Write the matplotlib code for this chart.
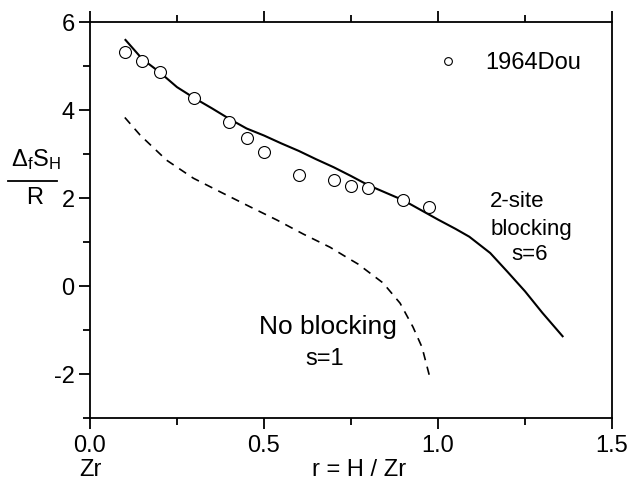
import matplotlib
matplotlib.use("Agg")
import matplotlib.pyplot as plt
from matplotlib.lines import Line2D

plt.rcParams['font.family'] = ['Liberation Sans', 'DejaVu Sans']
plt.rcParams['mathtext.fontset'] = 'custom'
plt.rcParams['mathtext.rm'] = 'Liberation Sans'
plt.rcParams['mathtext.it'] = 'Liberation Sans'
plt.rcParams['mathtext.sf'] = 'Liberation Sans'

# Experimental data (1964Dou)
exp_r = [0.10, 0.15, 0.20, 0.30, 0.40, 0.45, 0.50, 0.60, 0.70, 0.75, 0.80, 0.90, 0.975]
exp_s = [5.32, 5.11, 4.86, 4.27, 3.73, 3.36, 3.05, 2.52, 2.41, 2.27, 2.23, 1.95, 1.80]

# 2-site blocking model, s=6 (solid)
blk_r = [0.10, 0.15, 0.20, 0.25, 0.30, 0.35, 0.40, 0.45, 0.50, 0.55, 0.60, 0.65, 0.70,
         0.75, 0.80, 0.85, 0.90, 0.95, 1.00, 1.05, 1.09, 1.15, 1.20, 1.25, 1.30, 1.36]
blk_s = [5.61, 5.16, 4.86, 4.52, 4.27, 4.04, 3.80, 3.58, 3.42, 3.24, 3.07, 2.88, 2.70,
         2.50, 2.29, 2.12, 1.95, 1.73, 1.51, 1.30, 1.12, 0.75, 0.32, -0.12, -0.61, -1.16]

# No blocking model, s=1 (dashed)
nob_r = [0.10, 0.144, 0.22, 0.297, 0.374, 0.46, 0.537, 0.613, 0.69, 0.74, 0.77,
         0.842, 0.891, 0.928, 0.954, 0.977]
nob_s = [3.83, 3.43, 2.86, 2.45, 2.14, 1.80, 1.50, 1.18, 0.88, 0.64, 0.50,
         0.07, -0.39, -0.93, -1.39, -2.09]

x_ticks = [0.0, 0.5, 1.0, 1.5]
x_ticklabels = ['0.0', '0.5', '1.0', '1.5']
y_ticks = [-2, 0, 2, 4, 6]
y_ticklabels = ['-2', '0', '2', '4', '6']

fig = plt.figure(figsize=(6.31, 4.82), dpi=100)
ax = fig.add_axes([90/631, 1-418/482, (612-90)/631, (418-22)/482])

ax.plot(blk_r, blk_s, color='black', lw=1.5, solid_capstyle='butt', solid_joinstyle='round')
ax.plot(nob_r, nob_s, color='black', lw=1.2, ls=(0, (5, 4)))
ax.plot(exp_r, exp_s, ls='none', marker='o', ms=8.6, mfc='white', mec='black', mew=0.8,
        label='1964Dou')

ax.set_xlim(0, 1.5)
ax.set_ylim(-3, 6)
ax.set_xticks(x_ticks)
ax.set_xticklabels(x_ticklabels)
ax.set_yticks(y_ticks)
ax.set_yticklabels(y_ticklabels)
ax.set_xticks([0.25, 0.75, 1.25], minor=True)
ax.set_yticks([-3, -1, 1, 3, 5], minor=True)

for s in ax.spines.values():
    s.set_linewidth(1.3)

ax.tick_params(which='major', direction='out', length=8, width=1.3, labelsize=17,
               top=True, right=False, pad=4)
ax.tick_params(which='minor', direction='out', length=5, width=1.3, top=True, right=False)
ax.tick_params(axis='y', which='major', pad=3)

leg = ax.legend(loc='upper left', bbox_to_anchor=(0.612, 0.978), frameon=False,
                fontsize=17, markerscale=0.65, handletextpad=0.8, handlelength=1.5)

# Axis labels
fig.text(359/631, 1-476/482, 'r = H / Zr', ha='center', va='baseline', fontsize=17)
fig.text(90/631, 1-476/482, 'Zr', ha='center', va='baseline', fontsize=17)

# Y label as a fraction
fig.text(36/631, 1-160/482, r'$\Delta_{\mathrm{f}}\mathrm{S}_{\mathrm{H}}$', ha='center',
         va='center', fontsize=17)
fig.add_artist(Line2D([8/631, 57/631], [1-181/482, 1-181/482], color='black', lw=1.3))
fig.text(35/631, 1-198/482, 'R', ha='center', va='center', fontsize=17)

# Annotations
ax.text(1.15, 1.93, '2-site', ha='left', va='center', fontsize=16)
ax.text(1.15, 1.28, 'blocking', ha='left', va='center', fontsize=16)
ax.text(1.264, 0.72, 's=6', ha='center', va='center', fontsize=16)
ax.text(0.684, -0.93, 'No blocking', ha='center', va='center', fontsize=19)
ax.text(0.675, -1.66, 's=1', ha='center', va='center', fontsize=17)

fig.savefig('out.png', dpi=100)
